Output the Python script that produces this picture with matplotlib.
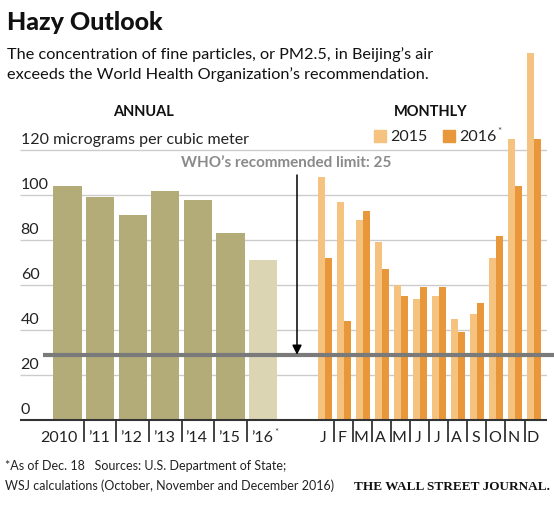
import numpy as np
import matplotlib
matplotlib.use("Agg")
import matplotlib.pyplot as plt
from matplotlib.patches import Rectangle

plt.rcParams['font.family'] = ['Lato', 'DejaVu Sans']

# ---- data ----
years = ["2010", "’11", "’12", "’13", "’14", "’15", "’16"]
annual = [104, 99, 91, 102, 98, 83, 71]
months = ["J", "F", "M", "A", "M", "J", "J", "A", "S", "O", "N", "D"]
m2015 = [108, 97, 89, 79, 60, 54, 55, 45, 47, 72, 125, 163]
m2016 = [72, 44, 93, 67, 55, 59, 59, 39, 52, 82, 104, 125]
yticks = [0, 20, 40, 60, 80, 100, 120]
series_names = ["2015", "2016"]
who_line = 29  # drawn position of the WHO line as shown

# ---- colours ----
c_annual = "#b3ac78"
c_annual16 = "#dcd5b4"
c_2015 = "#f6c27f"
c_2016 = "#e8983a"

W, H = 554, 506
fig = plt.figure(figsize=(W / 100, H / 100), dpi=100)

def fx(px):
    return px / W

def fy(py):
    return 1 - py / H

def add_star(t):
    fig.add_artist(plt.Annotation("*", xy=(1, 1), xycoords=t, xytext=(1, 2),
                                  textcoords="offset points", ha="left", va="top",
                                  fontsize=7, color="#444444", annotation_clip=False))

# axes geometry (pixels)
ax_left, ax_right, ax_bottom, ax_top = 20, 547, 421, 38
ax = fig.add_axes([fx(ax_left), fy(ax_bottom), fx(ax_right) - fx(ax_left), fy(ax_top) - fy(ax_bottom)])
unit = 32.6           # px per annual slot
x0_px = 67.5          # px of first annual bar centre
ppu = 2.25            # px per y unit
ax.set_xlim((ax_left - x0_px) / unit, (ax_right - x0_px) / unit)
ax.set_ylim(0, (ax_bottom - ax_top) / ppu)
ax.axis("off")

xmin, xmax = ax.get_xlim()

# gridlines
for v in yticks[1:]:
    ax.hlines(v, xmin, xmax, color="#cccccc", lw=1.0, zorder=0)

# annual bars
xa = np.arange(len(annual))
cols = [c_annual] * (len(annual) - 1) + [c_annual16]
ax.bar(xa, annual, width=0.86, color=cols, zorder=2)

# monthly bars
m0 = (325 - x0_px) / unit
step = 19.0 / unit
bw = 7.0 / unit
xm = m0 + step * np.arange(12)
ax.bar(xm - bw / 2, m2015, width=bw, color=c_2015, zorder=2, clip_on=False)
ax.bar(xm + bw / 2, m2016, width=bw, color=c_2016, zorder=2, clip_on=False)

# baseline
ax.hlines(0, xmin, xmax, color="#333333", lw=1.5, zorder=3, clip_on=False)

# WHO line
ax.hlines(who_line, (43 - x0_px) / unit, (554 - x0_px) / unit, color="#7a7a7a", lw=3,
          zorder=4, clip_on=False)
ax_x = (297 - x0_px) / unit
ax.annotate("", xy=(ax_x, who_line), xytext=(ax_x, (ax_bottom - 176) / ppu),
            arrowprops=dict(arrowstyle="-|>", color="black", lw=1.1, mutation_scale=14,
                            shrinkA=0, shrinkB=0), zorder=5)
ax.text(ax_x - 0.33, (ax_bottom - 163) / ppu, "WHO’s recommended limit: 25", ha="center",
        va="center", fontsize=11, fontweight="bold", color="#8a8a8a")

# y tick labels
for v in yticks:
    lab = "120 micrograms per cubic meter" if v == 120 else str(v)
    ax.text(xmin + 0.02, v + 1.8, lab, ha="left", va="bottom", fontsize=11.5, color="#222222")

# x separators and labels
sep_len = 22 / ppu
lab_y = -17 / ppu
for i in range(len(annual) - 1):
    ax.vlines(i + 0.5, -sep_len, 0, color="#222222", lw=1.2, clip_on=False)
for i, lab in enumerate(years):
    if i == 0:
        ax.text(0.5 - 0.2, lab_y, lab, ha="right", va="center", fontsize=11.5, color="#222222")
    else:
        t = ax.text(i - 0.5 + 0.12, lab_y, lab, ha="left", va="center", fontsize=11.5,
                    color="#222222")
        if i == len(annual) - 1:
            add_star(t)
for k in range(11):
    ax.vlines(xm[k] + step / 2, -sep_len, 0, color="#222222", lw=1.2, clip_on=False)
for k, lab in enumerate(months):
    ax.text(xm[k] - 0.05, lab_y, lab, ha="center", va="center", fontsize=11.5, color="#222222")

# titles
fig.text(fx(7), fy(22), "Hazy Outlook", ha="left", va="center", fontsize=18, fontweight="black",
         color="#111111")
fig.text(fx(7), fy(55), "The concentration of fine particles, or PM2.5, in Beijing’s air",
         ha="left", va="center", fontsize=11.7, color="#111111")
fig.text(fx(7), fy(75), "exceeds the World Health Organization’s recommendation.",
         ha="left", va="center", fontsize=11.7, color="#111111")
fig.text(fx(143), fy(112), "ANNUAL", ha="center", va="center", fontsize=10.5, fontweight="bold",
         color="#111111")
fig.text(fx(431), fy(112), "MONTHLY", ha="center", va="center", fontsize=10.5, fontweight="bold",
         color="#111111")

# legend (manual)
for sx, name, col in zip([374, 443], series_names, [c_2015, c_2016]):
    fig.add_artist(Rectangle((fx(sx), fy(143)), fx(12), 12 / H, color=col,
                             transform=fig.transFigure))
    t = fig.text(fx(sx + 16), fy(137), name, ha="left", va="center", fontsize=11.5,
                 color="#222222")
    if name == "2016":
        add_star(t)

# footnotes
fig.text(fx(5), fy(466), "*As of Dec. 18   Sources: U.S. Department of State;", ha="left",
         va="center", fontsize=9, color="#222222")
fig.text(fx(5), fy(486), "WSJ calculations (October, November and December 2016)", ha="left",
         va="center", fontsize=9, color="#222222")
fig.text(fx(550), fy(487), "THE WALL STREET JOURNAL.", ha="right", va="center", fontsize=9.5,
         fontweight="bold", family=["Liberation Serif", "DejaVu Serif"], color="#111111")

fig.savefig("out.png", dpi=100, facecolor="white")
